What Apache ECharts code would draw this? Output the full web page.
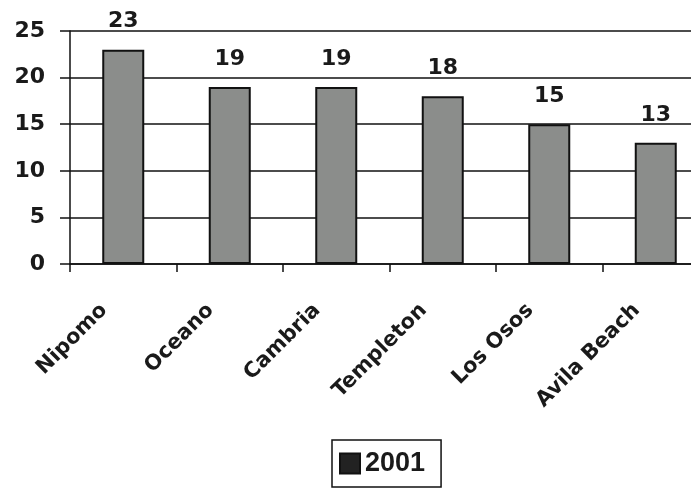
<!DOCTYPE html>
<html>
<head>
<meta charset="utf-8">
<script src="https://cdn.jsdelivr.net/npm/echarts@6/dist/echarts.min.js"></script>
<style>
  html, body { margin: 0; padding: 0; background: #ffffff; overflow: hidden; }
  #chart { width: 691px; height: 489px; }
</style>
</head>
<body>
<div id="chart"></div>
<script>
// Towns and their 2001 counts
const towns = ['Nipomo', 'Oceano', 'Cambria', 'Templeton', 'Los Osos', 'Avila Beach'];
const values2001 = [23, 19, 19, 18, 15, 13];
const yTicks = [0, 5, 10, 15, 20, 25];
const seriesName = '2001';

const font = '"DejaVu Sans", "Liberation Sans", Arial, sans-serif';
const chart = echarts.init(document.getElementById('chart'));

chart.setOption({
  animation: false,
  backgroundColor: '#ffffff',
  // plot area runs a little past the right edge of the canvas
  grid: { left: 70, top: 31, width: 639, height: 233, containLabel: false, outerBoundsMode: 'none' },
  xAxis: {
    type: 'category',
    data: towns,
    boundaryGap: true,
    axisLine: { show: true, lineStyle: { color: '#111', width: 1.5 } },
    axisTick: { show: true, alignWithLabel: false, length: 8, lineStyle: { color: '#111', width: 1.5 } },
    axisLabel: {
      rotate: 45,
      margin: 24,
      interval: 0,
      padding: [0, 27, 0, 0],
      color: '#1a1a1a',
      fontFamily: font,
      fontWeight: 'bold',
      fontSize: 21
    }
  },
  yAxis: {
    type: 'value',
    min: yTicks[0],
    max: yTicks[yTicks.length - 1],
    interval: 5,
    axisLine: { show: true, lineStyle: { color: '#111', width: 1.5 } },
    axisTick: { show: true, length: 10, lineStyle: { color: '#111', width: 1.5 } },
    axisLabel: {
      margin: 25,
      color: '#1a1a1a',
      fontFamily: font,
      fontWeight: 'bold',
      fontSize: 22
    },
    splitLine: { show: true, lineStyle: { color: '#111', width: 1.5 } }
  },
  legend: {
    data: [{ name: seriesName, itemStyle: { color: '#222' } }],
    left: 332,
    top: 440,
    orient: 'horizontal',
    icon: 'rect',
    itemWidth: 20,
    itemHeight: 20,
    itemGap: 6,
    padding: [10, 16, 10, 7],
    borderColor: '#111',
    borderWidth: 1.5,
    textStyle: {
      color: '#1a1a1a',
      fontFamily: '"Liberation Sans", Arial, sans-serif',
      fontWeight: 'bold',
      fontSize: 27
    }
  },
  series: [{
    name: seriesName,
    type: 'bar',
    data: values2001,
    barWidth: 42,
    itemStyle: { color: '#8b8d8b', borderColor: '#111', borderWidth: 2 },
    label: {
      show: true,
      position: 'top',
      distance: 17,
      color: '#1a1a1a',
      fontFamily: font,
      fontWeight: 'bold',
      fontSize: 22
    }
  }]
});
</script>
</body>
</html>
